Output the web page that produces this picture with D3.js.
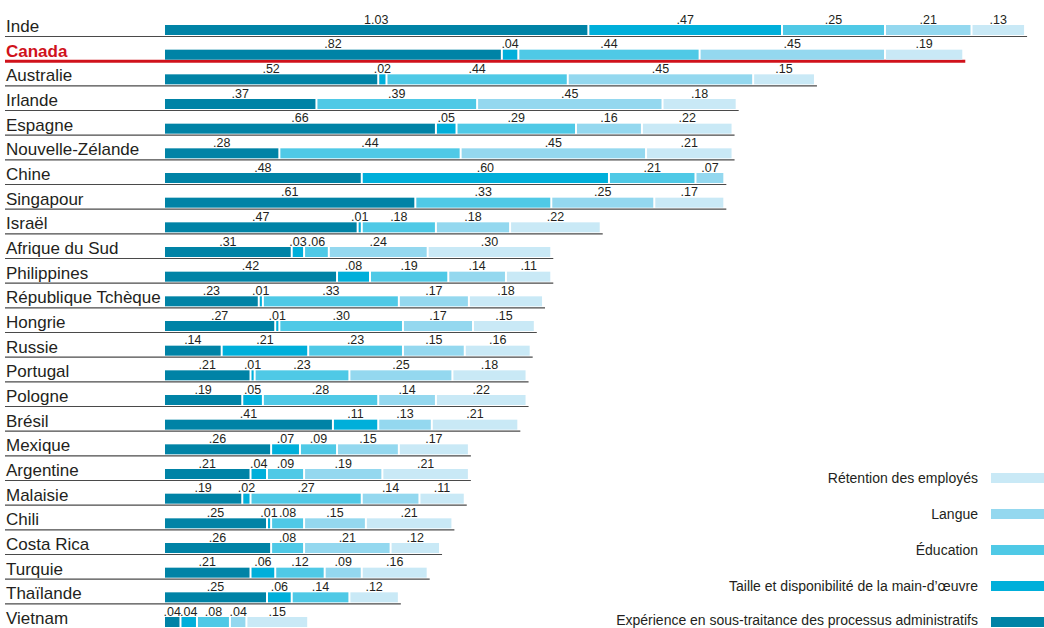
<!DOCTYPE html>
<html>
<head>
<meta charset="utf-8">
<script src="https://cdn.jsdelivr.net/npm/d3@7"></script>
<style>
  body { margin: 0; background: #fff; }
  svg { display: block; font-family: "Liberation Sans", Arial, sans-serif; }
  .country { font-size: 17px; fill: #231f20; }
  .val { font-size: 12.5px; fill: #231f20; text-anchor: middle; }
  .legend text { font-size: 14px; fill: #231f20; text-anchor: end; }
</style>
</head>
<body>
<svg id="chart" width="1044" height="628"></svg>
<script>
// countries, top to bottom
var countries = ["Inde", "Canada", "Australie", "Irlande", "Espagne", "Nouvelle-Zélande", "Chine",
  "Singapour", "Israël", "Afrique du Sud", "Philippines", "République Tchèque", "Hongrie", "Russie",
  "Portugal", "Pologne", "Brésil", "Mexique", "Argentine", "Malaisie", "Chili", "Costa Rica",
  "Turquie", "Thaïlande", "Vietnam"];

// one array per factor (0 = no segment shown)
var experience = [1.03, .82, .52, .37, .66, .28, .48, .61, .47, .31, .42, .23, .27, .14, .21, .19, .41, .26, .21, .19, .25, .26, .21, .25, .04];
var taille     = [.47, .04, .02, 0, .05, 0, .60, 0, .01, .03, .08, .01, .01, .21, .01, .05, .11, .07, .04, .02, .01, 0, .06, .06, .04];
var education  = [.25, .44, .44, .39, .29, .44, .21, .33, .18, .06, .19, .33, .30, .23, .23, .28, 0, .09, .09, .27, .08, .08, .12, .14, .08];
var langue     = [.21, .45, .45, .45, .16, .45, .07, .25, .18, .24, .14, .17, .17, .15, .25, .14, .13, .15, .19, .14, .15, .21, .09, 0, .04];
var retention  = [.13, .19, .15, .18, .22, .21, 0, .17, .22, .30, .11, .18, .15, .16, .18, .22, .21, .17, .21, .11, .21, .12, .16, .12, .15];

var factors = ["Expérience en sous-traitance des processus administratifs", "Taille et disponibilité de la main-d’œuvre",
  "Éducation", "Langue", "Rétention des employés"];
var colors = ["#0083a6", "#00afda", "#4fc9e6", "#94d8ef", "#c9e9f6"];

var series = [experience, taille, education, langue, retention];

var svg = d3.select("#chart");

var x = d3.scaleLinear().domain([0, 2.1]).range([165, 165 + 2.1 * 412]);
var y = d3.scalePoint().domain(countries).range([25, 617]); // bar top
var barH = 10;

var rows = countries.map(function(c, i) {
  var start = 0;
  var segs = series.map(function(s, k) {
    var seg = {k: k, v: s[i], x0: start, x1: start + s[i]};
    start += s[i];
    return seg;
  });
  return {name: c, total: start, segs: segs.filter(function(d) { return d.v > 0; })};
});

var row = svg.selectAll("g.row").data(rows).enter().append("g")
  .attr("class", "row")
  .attr("transform", function(d) { return "translate(0," + y(d.name) + ")"; });

// separator line below each bar (red under Canada)
row.append("line")
  .attr("x1", 5)
  .attr("x2", function(d) { return x(d.total) + 1; })
  .attr("y1", barH + 1.5)
  .attr("y2", barH + 1.5)
  .attr("stroke", function(d) { return d.name == "Canada" ? "#d0121b" : "#4a4a4a"; })
  .attr("stroke-width", function(d) { return d.name == "Canada" ? 3 : 1.2; });

row.append("text")
  .attr("class", "country")
  .attr("x", 6)
  .attr("y", 7)
  .style("font-weight", function(d) { return d.name == "Canada" ? "bold" : null; })
  .style("fill", function(d) { return d.name == "Canada" ? "#d0121b" : null; })
  .text(function(d) { return d.name; });

row.selectAll("rect").data(function(d) { return d.segs; }).enter().append("rect")
  .attr("x", function(d) { return x(d.x0); })
  .attr("y", 0)
  .attr("width", function(d) { return Math.max(1, x(d.x1) - x(d.x0) - 2); })
  .attr("height", barH)
  .attr("fill", function(d) { return colors[d.k]; });

var fmt = function(v) { return v >= 1 ? d3.format(".2f")(v) : d3.format(".2f")(v).replace(/^0/, ""); };

row.selectAll("text.val").data(function(d) { return d.segs; }).enter().append("text")
  .attr("class", "val")
  .attr("x", function(d) { return (x(d.x0) + x(d.x1) - 2) / 2; })
  .attr("y", -1.5)
  .text(function(d) { return fmt(d.v); });

// legend, bottom right
var legendOrder = [4, 3, 2, 1, 0];
var leg = svg.append("g").attr("class", "legend");
legendOrder.forEach(function(k, i) {
  var ly = 478 + i * 36;
  leg.append("rect").attr("x", 991).attr("y", ly - 5).attr("width", 60).attr("height", 10).attr("fill", colors[k]);
  leg.append("text").attr("x", 978).attr("y", i == 4 ? ly + 3 : ly + 5).text(factors[k]);
});
</script>
</body>
</html>
